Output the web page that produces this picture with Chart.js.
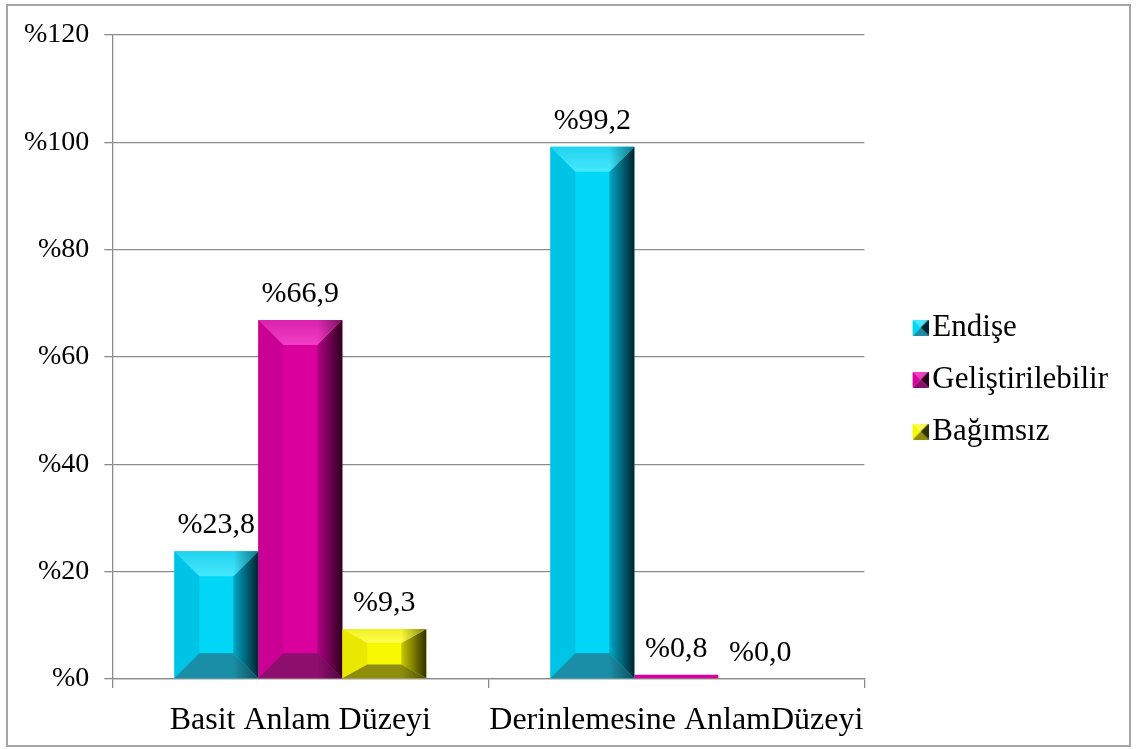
<!DOCTYPE html>
<html>
<head>
<meta charset="utf-8">
<script src="https://cdn.jsdelivr.net/npm/chart.js@4/dist/chart.umd.min.js"></script>
<style>
    body { margin: 0; background: #fff; }
    .frame {
        position: absolute;
        left: 6px;
        top: 4px;
        width: 1121px;
        height: 739px;
        border: 2px solid #a6a6a6;
    }
</style>
</head>
<body>
<div class="frame"><canvas id="chart"></canvas></div>
<script>
const categories = ['Basit Anlam Düzeyi', 'Derinlemesine AnlamDüzeyi']
const seriesNames = ['Endişe', 'Geliştirilebilir', 'Bağımsız']
const endise = [23.8, 99.2]
const gelistirilebilir = [66.9, 0.8]
const bagimsiz = [9.3, 0.0]
const yTicks = [0, 20, 40, 60, 80, 100, 120]

// face colours of the bevelled bars
const tones = [
    { base: '#00D6F6', left: '#00C4E6', top: '#46E8FD', topEdge: '#22D2EE', bottom: '#1A8EA6', rightIn: '#00A8C8', rightOut: '#00222E' },
    { base: '#DA009E', left: '#CA0094', top: '#F23EC6', topEdge: '#DA22AC', bottom: '#8E0E6E', rightIn: '#B00082', rightOut: '#2E001F' },
    { base: '#F8F800', left: '#E8E800', top: '#FFFF52', topEdge: '#F0F024', bottom: '#8E8E0C', rightIn: '#C8C800', rightOut: '#303000' }
]

const serif = '"Liberation Serif", "Times New Roman", serif'
const fmt = v => '%' + v.toFixed(1).replace('.', ',')

// legend marker: a 16px pyramid at the right end of a wider transparent canvas
function marker(tone) {
    const c = document.createElement('canvas')
    c.width = 55
    c.height = 16
    const g = c.getContext('2d')
    const ox = 39
    const tri = (pts, col) => {
        g.beginPath()
        g.moveTo(ox + pts[0], pts[1])
        g.lineTo(ox + pts[2], pts[3])
        g.lineTo(ox + pts[4], pts[5])
        g.closePath()
        g.fillStyle = col
        g.fill()
    }
    tri([0, 0, 16, 0, 8, 8], tone.top)
    tri([0, 16, 16, 16, 8, 8], tone.bottom)
    tri([0, 0, 0, 16, 8, 8], tone.base)
    tri([16, 0, 16, 16, 8, 8], tone.rightOut)
    return c
}

function face(ctx, pts, fill) {
    ctx.beginPath()
    ctx.moveTo(pts[0][0], pts[0][1])
    for (let k = 1; k < pts.length; k++) ctx.lineTo(pts[k][0], pts[k][1])
    ctx.closePath()
    ctx.fillStyle = fill
    ctx.fill()
}

const bevel = {
    id: 'bevel',
    afterDatasetsDraw(chart) {
        const ctx = chart.ctx
        chart.data.datasets.forEach((ds, i) => {
            const tone = tones[i]
            chart.getDatasetMeta(i).data.forEach(bar => {
                const { x, y, base, width } = bar.getProps(['x', 'y', 'base', 'width'], true)
                const l = x - width / 2, r = x + width / 2
                const t = Math.min(y, base), b = Math.max(y, base)
                const h = b - t
                if (h < 6) return
                const bx = Math.min(25, width * 0.3)
                const by = Math.min(25, h * 0.28)
                ctx.save()
                face(ctx, [[l, t], [l + bx, t + by], [l + bx, b - by], [l, b]], tone.left)

                const rg = ctx.createLinearGradient(r - bx, 0, r, 0)
                rg.addColorStop(0, tone.rightIn)
                rg.addColorStop(1, tone.rightOut)
                face(ctx, [[r, t], [r - bx, t + by], [r - bx, b - by], [r, b]], rg)

                const tg = ctx.createLinearGradient(0, t, 0, t + by)
                tg.addColorStop(0, tone.topEdge)
                tg.addColorStop(1, tone.top)
                face(ctx, [[l, t], [r, t], [r - bx, t + by], [l + bx, t + by]], tg)

                face(ctx, [[l, b], [r, b], [r - bx, b - by], [l + bx, b - by]], tone.bottom)

                // darken the right corners of the top and bottom faces
                const sg = ctx.createLinearGradient(r - bx, 0, r, 0)
                sg.addColorStop(0, 'rgba(0,0,0,0)')
                sg.addColorStop(1, 'rgba(0,0,0,0.45)')
                face(ctx, [[r, t], [r - bx, t + by], [r - bx, t]], sg)
                face(ctx, [[r, b], [r - bx, b - by], [r - bx, b]], sg)
                ctx.restore()
            })
        })
    }
}

const valueLabels = {
    id: 'valueLabels',
    afterDatasetsDraw(chart) {
        const ctx = chart.ctx
        ctx.save()
        ctx.font = '30px ' + serif
        ctx.fillStyle = '#000'
        ctx.textAlign = 'center'
        ctx.textBaseline = 'alphabetic'
        chart.data.datasets.forEach((ds, i) => {
            chart.getDatasetMeta(i).data.forEach((bar, j) => {
                ctx.fillText(fmt(ds.data[j]), bar.x, bar.y - 18)
            })
        })
        ctx.restore()
    }
}

const seriesData = [endise, gelistirilebilir, bagimsiz]

const data = {
    labels: categories,
    datasets: seriesNames.map((name, i) => ({
        label: name,
        data: seriesData[i],
        backgroundColor: tones[i].base,
        borderWidth: 0,
        categoryPercentage: 0.67,
        barPercentage: 1
    }))
}

const config = {
    type: 'bar',
    data: data,
    plugins: [bevel, valueLabels],
    options: {
        responsive: true,
        maintainAspectRatio: false,
        animation: false,
        layout: {
            padding: { left: 1, top: 8, right: 11, bottom: 0 }
        },
        plugins: {
            tooltip: { enabled: false },
            legend: {
                position: 'right',
                labels: {
                    font: { family: serif, size: 31 },
                    color: '#000',
                    padding: 21,
                    usePointStyle: true,
                    pointStyleWidth: 31.5,
                    generateLabels: chart => chart.data.datasets.map((ds, i) => ({
                        text: ds.label,
                        pointStyle: marker(tones[i]),
                        fillStyle: tones[i].base,
                        strokeStyle: tones[i].base,
                        lineWidth: 0,
                        datasetIndex: i,
                        hidden: false
                    }))
                }
            }
        },
        scales: {
            y: {
                min: 0,
                max: 120,
                afterBuildTicks: axis => { axis.ticks = yTicks.map(v => ({ value: v })) },
                grid: {
                    color: '#8c8c8c',
                    lineWidth: 1.3,
                    tickLength: 8
                },
                border: { color: '#8c8c8c', width: 1.3 },
                ticks: {
                    color: '#000',
                    padding: 15,
                    font: { family: serif, size: 28, lineHeight: 1.0 },
                    callback: v => '%' + v
                }
            },
            x: {
                afterFit: axis => { axis.height = 66 },
                grid: {
                    offset: true,
                    drawOnChartArea: false,
                    color: '#8c8c8c',
                    lineWidth: 1.3,
                    tickLength: 9
                },
                border: { color: '#8c8c8c', width: 1.3 },
                ticks: {
                    color: '#000',
                    padding: 25,
                    maxRotation: 0,
                    minRotation: 0,
                    autoSkip: false,
                    font: { family: serif, size: 32, lineHeight: 0.45 }
                }
            }
        }
    }
}

new Chart(document.querySelector('#chart'), config)
</script>
</body>
</html>
